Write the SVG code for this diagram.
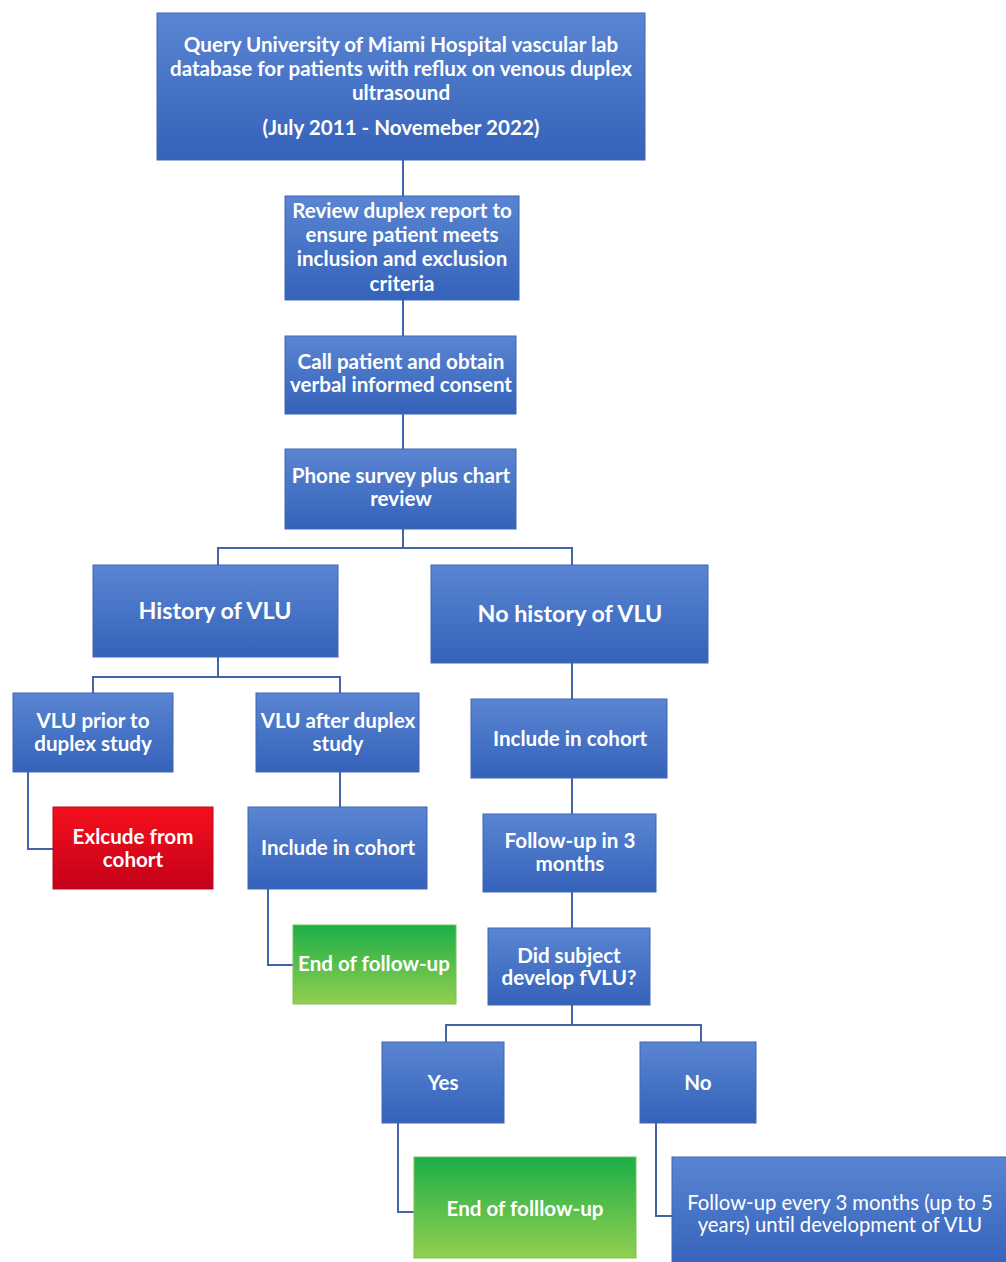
<svg xmlns="http://www.w3.org/2000/svg" width="1006" height="1262" viewBox="0 0 1006 1262">
<defs>
<linearGradient id="gb" x1="0" y1="0" x2="0" y2="1">
<stop offset="0" stop-color="#5a85d2"/>
<stop offset="1" stop-color="#3562ba"/>
</linearGradient>
<linearGradient id="gr" x1="0" y1="0" x2="0" y2="1">
<stop offset="0" stop-color="#f4101c"/>
<stop offset="1" stop-color="#c4001a"/>
</linearGradient>
<linearGradient id="gg" x1="0" y1="0" x2="0" y2="1">
<stop offset="0" stop-color="#1cae48"/>
<stop offset="1" stop-color="#92cf50"/>
</linearGradient>
</defs>
<style>
.b{fill:url(#gb);stroke:#3f67b4;stroke-width:1}
.r{fill:url(#gr);stroke:#b80a1a;stroke-width:1}
.g{fill:url(#gg);stroke:#7fc050;stroke-width:1}
text{font-family:Lato,"Open Sans","Liberation Sans",sans-serif;fill:#ffffff;text-anchor:middle;font-weight:bold;font-size:20.6px}
.n{font-weight:normal;font-size:20.3px}
.h{font-size:23.3px}
.c{fill:none;stroke:#4165a8;stroke-width:2}
</style>
<g id="connectors">
<path class="c" d="M403 160V196"/>
<path class="c" d="M403 300V336"/>
<path class="c" d="M403 414V449"/>
<path class="c" d="M403 529V548M218 565V548H572V565"/>
<path class="c" d="M218 657V677M93 693V677H340V693"/>
<path class="c" d="M28 772V849H53"/>
<path class="c" d="M340 772V807"/>
<path class="c" d="M268 889V965H293"/>
<path class="c" d="M572 663V699"/>
<path class="c" d="M572 778V814"/>
<path class="c" d="M572 892V928"/>
<path class="c" d="M572 1005V1025M446 1042V1025H701V1042"/>
<path class="c" d="M398 1123V1212H414"/>
<path class="c" d="M656 1123V1216H672"/>
</g>
<g id="n1"><rect class="b" x="157" y="13" width="488" height="147"/>
<text x="401" y="52">Query University of Miami Hospital vascular lab</text>
<text x="401" y="76">database for patients with reflux on venous duplex</text>
<text x="401" y="100">ultrasound</text>
<text x="401" y="135">(July 2011 - Novemeber 2022)</text></g>
<g id="n2"><rect class="b" x="285" y="196" width="234" height="104"/>
<text x="402" y="218">Review duplex report to</text>
<text x="402" y="242">ensure patient meets</text>
<text x="402" y="266">inclusion and exclusion</text>
<text x="402" y="291">criteria</text></g>
<g id="n3"><rect class="b" x="285" y="336" width="231" height="78"/>
<text x="401" y="369">Call patient and obtain</text>
<text x="401" y="392">verbal informed consent</text></g>
<g id="n4"><rect class="b" x="285" y="449" width="231" height="80"/>
<text x="401" y="483">Phone survey plus chart</text>
<text x="401" y="506">review</text></g>
<g id="n5"><rect class="b" x="93" y="565" width="245" height="92"/>
<text class="h" x="215" y="619">History of VLU</text></g>
<g id="n6"><rect class="b" x="431" y="565" width="277" height="98"/>
<text class="h" x="570" y="622">No history of VLU</text></g>
<g id="n7"><rect class="b" x="13" y="693" width="160" height="79"/>
<text x="93" y="728">VLU prior to</text>
<text x="93" y="751">duplex study</text></g>
<g id="n8"><rect class="b" x="256" y="693" width="163" height="79"/>
<text x="338" y="728">VLU after duplex</text>
<text x="338" y="751">study</text></g>
<g id="n9"><rect class="r" x="53" y="807" width="160" height="82"/>
<text x="133" y="844">Exlcude from</text>
<text x="133" y="867">cohort</text></g>
<g id="n10"><rect class="b" x="248" y="807" width="179" height="82"/>
<text x="338" y="855">Include in cohort</text></g>
<g id="n11"><rect class="g" x="293" y="925" width="163" height="79"/>
<text x="374" y="971">End of follow-up</text></g>
<g id="n12"><rect class="b" x="471" y="699" width="196" height="79"/>
<text x="570" y="746">Include in cohort</text></g>
<g id="n13"><rect class="b" x="483" y="814" width="173" height="78"/>
<text x="570" y="848">Follow-up in 3</text>
<text x="570" y="871">months</text></g>
<g id="n14"><rect class="b" x="488" y="928" width="162" height="77"/>
<text x="569" y="963">Did subject</text>
<text x="569" y="985">develop fVLU?</text></g>
<g id="n15"><rect class="b" x="382" y="1042" width="122" height="81"/>
<text x="443" y="1090">Yes</text></g>
<g id="n16"><rect class="b" x="640" y="1042" width="116" height="81"/>
<text x="698" y="1090">No</text></g>
<g id="n17"><rect class="g" x="414" y="1157" width="222" height="101"/>
<text x="525" y="1216">End of folllow-up</text></g>
<g id="n18"><rect class="b" x="672" y="1157" width="340" height="110"/>
<text class="n" x="840" y="1210">Follow-up every 3 months (up to 5</text>
<text class="n" x="840" y="1232">years) until development of VLU</text></g>
</svg>
